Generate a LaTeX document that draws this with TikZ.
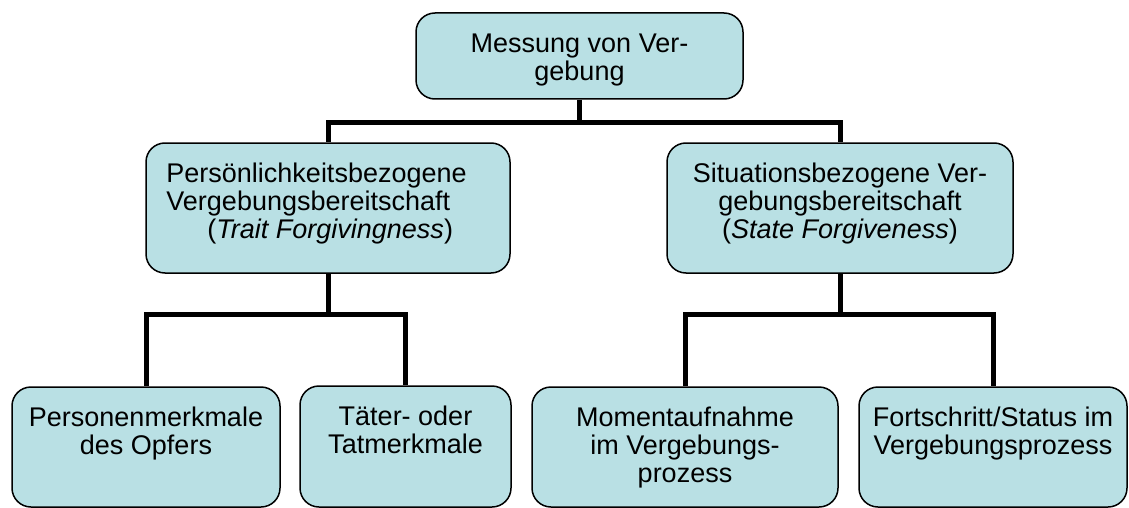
\documentclass[tikz,border=0pt]{standalone}
\usepackage{fontspec}
\setmainfont{Liberation Sans}
\definecolor{boxfill}{RGB}{185,224,228}
\tikzset{
  boxnode/.style={draw=black, line width=1.5pt, fill=boxfill, rounded corners=19pt, inner sep=0pt},
  txt/.style={anchor=north, inner sep=0pt, align=center, font=\fontsize{27}{28}\selectfont},
  txtl/.style={txt, align=left},
  conn/.style={draw=black, line width=5pt, line join=miter}
}
\newcommand{\fl}{\rule{0pt}{26pt}}
\begin{document}
\begin{tikzpicture}[x=1pt,y=-1pt]
\useasboundingbox (0,0) rectangle (1129,508);
% boxes
\node[boxnode, minimum width=327pt, minimum height=86pt] (top) at (579.5,56) {};
\node[boxnode, minimum width=364pt, minimum height=130pt] (midL) at (328,208) {};
\node[boxnode, minimum width=346pt, minimum height=130pt] (midR) at (840,208) {};
\node[boxnode, minimum width=268pt, minimum height=120pt] (b1) at (146,447) {};
\node[boxnode, minimum width=211pt, minimum height=121pt] (b2) at (405.5,446.5) {};
\node[boxnode, minimum width=306pt, minimum height=120pt] (b3) at (685,447) {};
\node[boxnode, minimum width=268pt, minimum height=120pt] (b4) at (993,447) {};
% texts
\node[txt] (topT) at ([yshift=-14pt]top.north) {\fl Messung von Ver-\\gebung};
\node[txtl, anchor=north west] (midLT) at ([yshift=-14pt]midL.north west) [xshift=21pt] {\fl Persönlichkeitsbezogene\\Vergebungsbereitschaft\\\hspace*{41pt}(\textit{Trait Forgivingness})};
\node[txt] (midRT) at ([yshift=-14pt]midR.north) {\fl Situationsbezogene Ver-\\gebungsbereitschaft\\(\textit{State Forgiveness})};
\node[txt] (b1T) at ([yshift=-14pt]b1.north) {\fl Personenmerkmale\\des Opfers};
\node[txt] (b2T) at ([yshift=-14pt]b2.north) {\fl Täter- oder\\Tatmerkmale};
\node[txt] (b3T) at ([yshift=-14pt]b3.north) {\fl Momentaufnahme\\im Vergebungs-\\prozess};
\node[txt] (b4T) at ([yshift=-14pt]b4.north) {\fl Fortschritt/Status im\\Vergebungsprozess};
% connectors
\coordinate (j0) at ([yshift=-23pt]top.south);
\coordinate (jL) at ([yshift=-41pt]midL.south);
\coordinate (jR) at ([yshift=-41pt]midR.south);
\draw[conn] (top.south) -- (j0) -| (midL.north);
\draw[conn] (j0) -| (midR.north);
\draw[conn] (midL.south) -- (jL) -| (b1.north);
\draw[conn] (jL) -| (b2.north);
\draw[conn] (midR.south) -- (jR) -| (b3.north);
\draw[conn] (jR) -| (b4.north);
\end{tikzpicture}
\end{document}
